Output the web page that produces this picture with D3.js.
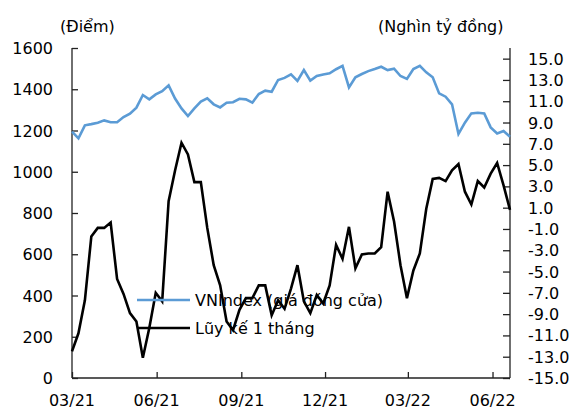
<!DOCTYPE html>
<html>
<head>
  <meta charset="utf-8">
  <script src="https://d3js.org/d3.v7.min.js"></script>
  <style>
    body { margin: 0; background: #fff; }
    text { font-family: "DejaVu Sans", Verdana, sans-serif; font-size: 16px; fill: #000; }
  </style>
</head>
<body>
<script type="text/javascript">
  // weekly points, first week starts 01/03/2021
  var startDate = new Date(2021, 2, 1);
  var weekCount = 69;

  var tickDates = [new Date(2021, 2, 1), new Date(2021, 5, 1), new Date(2021, 8, 1),
                   new Date(2021, 11, 1), new Date(2022, 2, 1), new Date(2022, 5, 1)];
  var leftTicks = [0, 200, 400, 600, 800, 1000, 1200, 1400, 1600];
  var rightTicks = [-15, -13, -11, -9, -7, -5, -3, -1, 1, 3, 5, 7, 9, 11, 13, 15];

  // VNIndex (points)
  var vnIndex = [1195, 1162, 1225, 1231, 1238, 1249, 1240, 1240, 1265, 1282,
                 1311, 1372, 1351, 1375, 1391, 1419, 1355, 1307, 1270, 1307,
                 1340, 1356, 1327, 1312, 1335, 1337, 1354, 1351, 1335, 1377,
                 1393, 1388, 1445, 1455, 1472, 1440, 1493, 1442, 1464, 1472,
                 1477, 1497, 1513, 1409, 1458, 1474, 1488, 1498, 1509, 1493,
                 1500, 1464, 1450, 1498, 1514, 1482, 1458, 1380, 1364, 1327,
                 1183, 1238, 1283, 1286, 1283, 1215, 1186, 1198, 1170];

  // cumulative 1 month (thousand billion VND)
  var luyKe = [-12.5, -10.8, -7.7, -1.7, -0.9, -0.9, -0.4, -5.7, -7.1, -8.9,
               -9.7, -13.1, -10.3, -7.0, -7.8, 1.6, 4.5, 7.1, 6.0, 3.4,
               3.4, -0.9, -4.4, -6.3, -9.7, -10.5, -8.6, -7.5, -7.5, -6.3,
               -6.3, -9.1, -7.7, -8.5, -6.6, -4.4, -7.8, -8.9, -7.2, -8.0,
               -6.3, -2.5, -3.8, -0.8, -4.7, -3.4, -3.3, -3.3, -2.7, 2.5,
               -0.3, -4.4, -7.5, -4.9, -3.3, 0.9, 3.7, 3.8, 3.5, 4.5,
               5.1, 2.5, 1.3, 3.5, 2.9, 4.2, 5.2, 3.1, 0.8];

  var dates = d3.range(weekCount).map(function (i) { return d3.timeWeek.offset(startDate, i); });

  var width = 575, height = 411;
  var pLeft = 72, pRight = 510, pTop = 48, pBottom = 378;

  var svg = d3.select("body").append("svg")
      .attr("width", width)
      .attr("height", height);

  var x = d3.scaleTime().domain([dates[0], dates[dates.length - 1]]).range([pLeft, pRight]);
  var yL = d3.scaleLinear().domain([0, 1600]).range([pBottom, pTop]);
  var yR = d3.scaleLinear().domain([-15, 16]).range([pBottom, pTop]);

  // axes, ticks pointing inward
  svg.append("g")
      .attr("transform", "translate(" + pLeft + ",0)")
      .call(d3.axisRight(yL).tickValues(leftTicks).tickSize(6).tickFormat(""))
      .call(function (g) { g.select(".domain").attr("d", "M0," + pTop + "V" + pBottom); });

  svg.append("g")
      .attr("transform", "translate(" + pRight + ",0)")
      .call(d3.axisLeft(yR).tickValues(rightTicks).tickSize(7).tickFormat(""))
      .call(function (g) { g.select(".domain").attr("d", "M0," + pTop + "V" + pBottom); });

  svg.append("g")
      .attr("transform", "translate(0," + pBottom + ")")
      .call(d3.axisTop(x).tickValues(tickDates).tickSize(6).tickFormat(""))
      .call(function (g) { g.select(".domain").attr("d", "M" + pLeft + ",0H" + pRight); });

  svg.selectAll(".domain, .tick line").attr("stroke", "#222").attr("stroke-width", 1.3);

  // tick labels
  svg.selectAll(".lLab").data(leftTicks).enter().append("text")
      .attr("x", 53).attr("y", function (d) { return yL(d); })
      .attr("dy", "0.38em").attr("text-anchor", "end")
      .text(function (d) { return d; });

  svg.selectAll(".rLab").data(rightTicks).enter().append("text")
      .attr("x", 528).attr("y", function (d) { return yR(d); })
      .attr("dy", "0.38em")
      .text(function (d) { return d.toFixed(1); });

  svg.selectAll(".xLab").data(tickDates).enter().append("text")
      .attr("x", function (d) { return x(d); }).attr("y", 406)
      .attr("text-anchor", "middle")
      .text(d3.timeFormat("%m/%y"));

  svg.append("text").attr("x", 60).attr("y", 32).text("(Điểm)");
  svg.append("text").attr("x", 378).attr("y", 32).text("(Nghìn tỷ đồng)");

  // lines
  var lineL = d3.line().x(function (d, i) { return x(dates[i]); }).y(function (d) { return yL(d); });
  var lineR = d3.line().x(function (d, i) { return x(dates[i]); }).y(function (d) { return yR(d); });

  svg.append("path").datum(vnIndex)
      .attr("d", lineL).attr("fill", "none")
      .attr("stroke", "#5b9bd5").attr("stroke-width", 2.6);

  svg.append("path").datum(luyKe)
      .attr("d", lineR).attr("fill", "none")
      .attr("stroke", "#000").attr("stroke-width", 2.6);

  // legend
  var legend = [{ name: "VNIndex (giá đóng cửa)", color: "#5b9bd5" },
                { name: "Lũy kế 1 tháng", color: "#000" }];
  var lg = svg.selectAll(".leg").data(legend).enter().append("g")
      .attr("transform", function (d, i) { return "translate(137," + (300 + i * 28) + ")"; });
  lg.append("line").attr("x1", 0).attr("x2", 53)
      .attr("stroke", function (d) { return d.color; }).attr("stroke-width", 2.6);
  lg.append("text").attr("x", 58).attr("dy", "0.36em").text(function (d) { return d.name; });
</script>
</body>
</html>
